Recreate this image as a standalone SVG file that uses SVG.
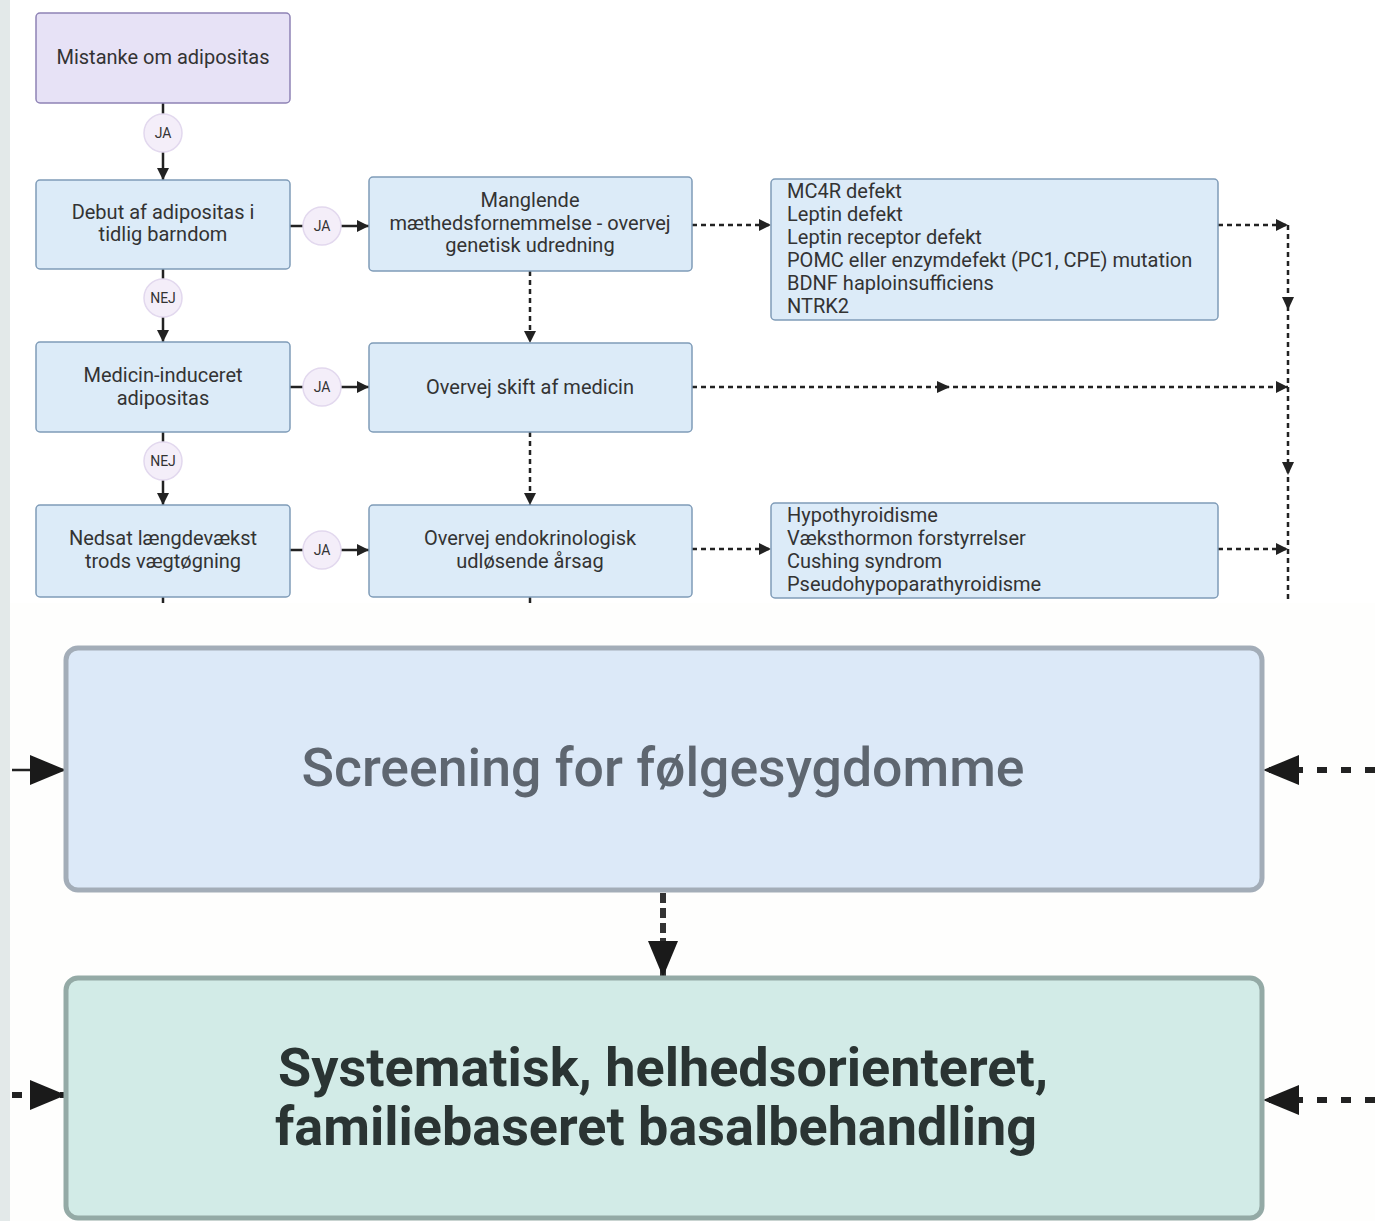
<svg xmlns="http://www.w3.org/2000/svg" width="1375" height="1221" viewBox="0 0 1375 1221">
<defs>
<style>
.b{fill:#dcebf8;stroke:#7f9cb8;stroke-width:1.5}
.p{fill:#e7e2f6;stroke:#8e83b5;stroke-width:1.5}
.t{font-family:Roboto,"Liberation Sans",sans-serif;font-size:20px;fill:#333;text-anchor:middle}
.l{font-family:Roboto,"Liberation Sans",sans-serif;font-size:20px;fill:#333}
.c{fill:#f4eef9;stroke:#e2d8ee;stroke-width:1.5}
.ct{font-family:Roboto,"Liberation Sans",sans-serif;font-size:14px;fill:#333;text-anchor:middle}
.s{stroke:#222;stroke-width:2.5;fill:none}
.d{stroke:#222;stroke-width:2.5;fill:none;stroke-dasharray:5 4}
.D{stroke:#222;stroke-width:6;fill:none;stroke-dasharray:10 14}
.V{stroke:#333;stroke-width:6;fill:none;stroke-dasharray:10 5}
.h{fill:#222}
</style>
<marker id="ah" viewBox="0 0 10 10" refX="10" refY="5" markerWidth="12" markerHeight="12" markerUnits="userSpaceOnUse" orient="auto"><path d="M0,0 L10,5 L0,10 z" fill="#222"/></marker>
<marker id="AH" viewBox="0 0 12 10" refX="12" refY="5" markerWidth="36" markerHeight="30" markerUnits="userSpaceOnUse" orient="auto"><path d="M0,0 L12,5 L0,10 z" fill="#1a1a1a"/></marker>
</defs>
<rect x="0" y="0" width="1375" height="1221" fill="#ffffff"/>
<rect x="0" y="603" width="1375" height="618" fill="#fefefd"/>
<rect x="0" y="0" width="10" height="1221" fill="#e3e9e9"/>

<g id="connectors">
<path class="s" d="M163,103 V114"/>
<path class="s" d="M163,152 V180" marker-end="url(#ah)"/>
<path class="s" d="M290,226 H303"/>
<path class="s" d="M341,226 H369" marker-end="url(#ah)"/>
<path class="s" d="M163,269 V279"/>
<path class="s" d="M163,317 V342" marker-end="url(#ah)"/>
<path class="s" d="M290,387 H303"/>
<path class="s" d="M341,387 H369" marker-end="url(#ah)"/>
<path class="s" d="M163,432 V442"/>
<path class="s" d="M163,480 V505" marker-end="url(#ah)"/>
<path class="s" d="M290,550 H303"/>
<path class="s" d="M341,550 H369" marker-end="url(#ah)"/>
<path class="s" d="M163,597 V603"/>
<path class="s" d="M530,597 V603"/>
<path class="d" d="M692,225 H771" marker-end="url(#ah)"/>
<path class="d" d="M1218,225 H1288" marker-end="url(#ah)"/>
<path class="d" d="M1288,225 V600"/>
<polygon class="h" points="1282,297 1294,297 1288,310"/>
<polygon class="h" points="1282,462 1294,462 1288,475"/>
<path class="d" d="M530,271 V343" marker-end="url(#ah)"/>
<path class="d" d="M692,387 H1288" marker-end="url(#ah)"/>
<polygon class="h" points="937,381 950,387 937,393"/>
<path class="d" d="M530,432 V505" marker-end="url(#ah)"/>
<path class="d" d="M692,549 H771" marker-end="url(#ah)"/>
<path class="d" d="M1218,549 H1288" marker-end="url(#ah)"/>
<path class="s" d="M12,770 H66" stroke-width="6" marker-end="url(#AH)"/>
<path class="D" d="M1375,770 H1263" marker-end="url(#AH)"/>
<path class="V" d="M663,893 V977" marker-end="url(#AH)"/>
<path class="D" d="M12,1095 H66" stroke-dasharray="10 20" marker-end="url(#AH)"/>
<path class="D" d="M1375,1100 H1263" marker-end="url(#AH)"/>
</g>

<g id="n1"><rect class="p" x="36" y="13" width="254" height="90" rx="4"/><text class="t" x="163" y="64">Mistanke om adipositas</text></g>
<g id="c1"><circle class="c" cx="163" cy="133" r="19"/><text class="ct" x="163" y="138">JA</text></g>
<g id="n2"><rect class="b" x="36" y="180" width="254" height="89" rx="4"/><text class="t" x="163" y="219">Debut af adipositas i</text><text class="t" x="163" y="241">tidlig barndom</text></g>
<g id="c2"><circle class="c" cx="322" cy="226" r="19"/><text class="ct" x="322" y="231">JA</text></g>
<g id="n3"><rect class="b" x="369" y="177" width="323" height="94" rx="4"/><text class="t" x="530" y="207">Manglende</text><text class="t" x="530" y="230">mæthedsfornemmelse - overvej</text><text class="t" x="530" y="252">genetisk udredning</text></g>
<g id="n4"><rect class="b" x="771" y="179" width="447" height="141" rx="4"/>
<text class="l" x="787" y="198">MC4R defekt</text>
<text class="l" x="787" y="221">Leptin defekt</text>
<text class="l" x="787" y="244">Leptin receptor defekt</text>
<text class="l" x="787" y="267">POMC eller enzymdefekt (PC1, CPE) mutation</text>
<text class="l" x="787" y="290">BDNF haploinsufficiens</text>
<text class="l" x="787" y="313">NTRK2</text></g>
<g id="c3"><circle class="c" cx="163" cy="298" r="19"/><text class="ct" x="163" y="303">NEJ</text></g>
<g id="n5"><rect class="b" x="36" y="342" width="254" height="90" rx="4"/><text class="t" x="163" y="382">Medicin-induceret</text><text class="t" x="163" y="405">adipositas</text></g>
<g id="c4"><circle class="c" cx="322" cy="387" r="19"/><text class="ct" x="322" y="392">JA</text></g>
<g id="n6"><rect class="b" x="369" y="343" width="323" height="89" rx="4"/><text class="t" x="530" y="394">Overvej skift af medicin</text></g>
<g id="c5"><circle class="c" cx="163" cy="461" r="19"/><text class="ct" x="163" y="466">NEJ</text></g>
<g id="n7"><rect class="b" x="36" y="505" width="254" height="92" rx="4"/><text class="t" x="163" y="545">Nedsat længdevækst</text><text class="t" x="163" y="568">trods vægtøgning</text></g>
<g id="c6"><circle class="c" cx="322" cy="550" r="19"/><text class="ct" x="322" y="555">JA</text></g>
<g id="n8"><rect class="b" x="369" y="505" width="323" height="92" rx="4"/><text class="t" x="530" y="545">Overvej endokrinologisk</text><text class="t" x="530" y="568">udløsende årsag</text></g>
<g id="n9"><rect class="b" x="771" y="503" width="447" height="95" rx="4"/>
<text class="l" x="787" y="522">Hypothyroidisme</text>
<text class="l" x="787" y="545">Væksthormon forstyrrelser</text>
<text class="l" x="787" y="568">Cushing syndrom</text>
<text class="l" x="787" y="591">Pseudohypoparathyroidisme</text></g>

<g id="n10"><rect x="66" y="648" width="1196" height="242" rx="12" fill="#dce9f8" stroke="#a3adb8" stroke-width="5"/><text x="663" y="786" font-family="Roboto,'Liberation Sans',sans-serif" font-size="54" font-weight="500" fill="#5e6670" text-anchor="middle" textLength="723" lengthAdjust="spacingAndGlyphs">Screening for følgesygdomme</text></g>
<g id="n11"><rect x="66" y="978" width="1196" height="240" rx="12" fill="#d2ebe7" stroke="#94aaa6" stroke-width="5"/><text x="663" y="1086" font-family="Roboto,'Liberation Sans',sans-serif" font-size="54" font-weight="700" fill="#2a3433" text-anchor="middle" textLength="770" lengthAdjust="spacingAndGlyphs">Systematisk, helhedsorienteret,</text><text x="656" y="1145" font-family="Roboto,'Liberation Sans',sans-serif" font-size="54" font-weight="700" fill="#2a3433" text-anchor="middle" textLength="762" lengthAdjust="spacingAndGlyphs">familiebaseret basalbehandling</text></g>
</svg>
